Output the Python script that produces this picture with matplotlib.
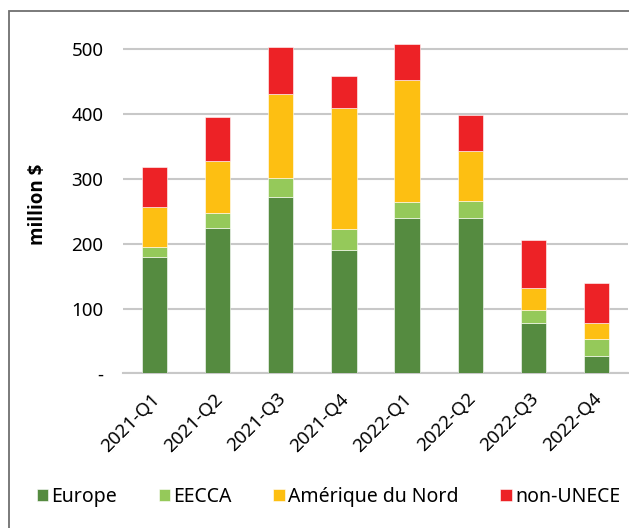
import matplotlib.pyplot as plt
from matplotlib.patches import Rectangle
import matplotlib.transforms as mtransforms
import numpy as np

plt.rcParams['font.family'] = ['Noto Sans', 'DejaVu Sans']

quarters = ['2021-Q1', '2021-Q2', '2021-Q3', '2021-Q4',
            '2022-Q1', '2022-Q2', '2022-Q3', '2022-Q4']
europe = [180, 225, 272, 191, 239, 240, 77, 27]
eecca = [15, 22, 30, 31, 25, 26, 21, 26]
amerique = [62, 81, 129, 188, 189, 77, 34, 24]
non_unece = [62, 68, 73, 49, 56, 55, 73, 63]

series = [('Europe', europe, '#558b40'),
          ('EECCA', eecca, '#95c95a'),
          ('Amérique du Nord', amerique, '#fdbf12'),
          ('non-UNECE', non_unece, '#ed2226')]

fig = plt.figure(figsize=(6.29, 5.28), dpi=100)
ax = fig.add_axes([123/629, 1 - 373.3/528, 505/629, (373.3 - 17)/528])

x = np.arange(len(quarters))
bottom = np.zeros(len(quarters))
for name, vals, col in series:
    ax.bar(x, vals, 0.4, bottom=bottom, color=col, label=name,
           edgecolor='white', linewidth=0.4, zorder=3)
    bottom += np.array(vals)

ax.set_xlim(-0.5, len(quarters) - 0.5)
ax.set_ylim(0, 550)
ax.set_yticks([0, 100, 200, 300, 400, 500])
ax.set_yticklabels(['-', '100', '200', '300', '400', '500'], fontsize=13.5)
ax.yaxis.grid(True, color='#c8c8c8', linewidth=1.5, zorder=0)
ax.tick_params(axis='y', length=0, pad=14)
ax.tick_params(axis='x', length=0, pad=12)
ax.set_xticks(x)
ax.set_xticklabels(quarters, rotation=45, ha='right', rotation_mode='anchor',
                   fontsize=13.5)
shift = mtransforms.ScaledTranslation(-4/100, 0, fig.dpi_scale_trans)
for lab in ax.get_xticklabels():
    lab.set_transform(lab.get_transform() + shift)
for s in ['top', 'right', 'left']:
    ax.spines[s].set_visible(False)
ax.spines['bottom'].set_color('#c8c8c8')
ax.spines['bottom'].set_linewidth(1.5)

fig.text(38/629, 1 - 204/528, 'million $', rotation=90, fontsize=13.5,
         family='Open Sans', fontweight='bold', ha='center', va='center')

# outer frame
fig.patches.append(Rectangle((9/629, -0.1), 1.2, 1 - 10.5/528 + 0.1,
                             transform=fig.transFigure, fill=False,
                             edgecolor='#6f6f6f', linewidth=1.3))

handles, labels = ax.get_legend_handles_labels()
fig.legend(handles, labels, loc='center', bbox_to_anchor=(0.522, 1 - 497/528),
           ncol=4, frameon=False, fontsize=14, handlelength=0.6,
           handleheight=0.6, handletextpad=0.15, columnspacing=2.15)

fig.savefig('out.png', dpi=100)
